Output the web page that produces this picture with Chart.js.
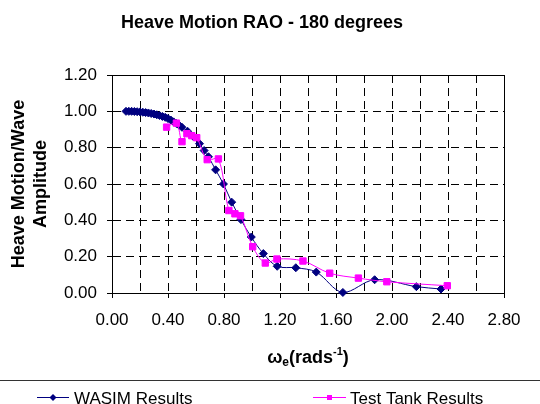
<!DOCTYPE html>
<html lang="en">
<head>
<meta charset="UTF-8">
<title>Heave Motion RAO - 180 degrees</title>
<script src="https://cdn.jsdelivr.net/npm/chart.js"></script>
<style>
  body { margin: 0; background: #fff; }
  canvas { display: block; }
</style>
</head>
<body>
<canvas id="raoChart" width="540" height="404"></canvas>
<script>
// encounter frequency (rad/s) against heave RAO
const wasimFreq = [0.10, 0.12, 0.14, 0.16, 0.18, 0.20, 0.22, 0.24, 0.26, 0.28, 0.30, 0.32, 0.34, 0.36, 0.38, 0.40,
                   0.42, 0.44, 0.46, 0.48, 0.50, 0.54, 0.58, 0.625, 0.658, 0.689, 0.740, 0.796, 0.855, 0.921, 0.995,
                   1.081, 1.180, 1.313, 1.459, 1.649, 1.876, 2.174, 2.350];
const wasimRao = [1.000, 1.000, 1.000, 0.999, 0.998, 0.997, 0.995, 0.993, 0.991, 0.988, 0.985, 0.981, 0.977, 0.972, 0.967, 0.960,
                  0.952, 0.942, 0.933, 0.923, 0.912, 0.890, 0.862, 0.822, 0.784, 0.750, 0.678, 0.600, 0.500, 0.404, 0.308,
                  0.217, 0.147, 0.139, 0.115, 0.003, 0.073, 0.035, 0.022];

const tankFreq = [0.39, 0.46, 0.50, 0.535, 0.57, 0.605, 0.68, 0.76, 0.835, 0.878, 0.918, 1.005, 1.095, 1.178, 1.364,
                  1.555, 1.76, 1.963, 2.395];
const tankRao = [0.913, 0.935, 0.833, 0.877, 0.866, 0.855, 0.734, 0.738, 0.454, 0.436, 0.425, 0.255, 0.165, 0.187, 0.176,
                 0.109, 0.082, 0.062, 0.040];

const seriesNames = ['WASIM Results', 'Test Tank Results'];
const chartTitle = 'Heave Motion RAO - 180 degrees';
const yTitle = ['Heave Motion/Wave', 'Amplitude'];

const xTicks = [0, 0.2, 0.4, 0.6, 0.8, 1.0, 1.2, 1.4, 1.6, 1.8, 2.0, 2.2, 2.4, 2.6, 2.8];
const xTickLabels = ['0.00', '', '0.40', '', '0.80', '', '1.20', '', '1.60', '', '2.00', '', '2.40', '', '2.80'];
const yTicks = [0, 0.2, 0.4, 0.6, 0.8, 1.0, 1.2];
const yTickLabels = ['0.00', '0.20', '0.40', '0.60', '0.80', '1.00', '1.20'];

const FONT = 'Liberation Sans, Arial, sans-serif';
Chart.defaults.font.family = FONT;
Chart.defaults.color = '#000';

function toPoints(xs, ys) {
    return xs.map((x, i) => ({ x: x, y: ys[i] }));
}

// marker used both on the plot and in the legend
function drawMarker(ctx, style, x, y, r) {
    ctx.beginPath();
    if (style === 'rectRot') {
        ctx.moveTo(x - r, y);
        ctx.lineTo(x, y - r);
        ctx.lineTo(x + r, y);
        ctx.lineTo(x, y + r);
        ctx.closePath();
    } else {
        ctx.rect(x - r, y - r, 2 * r, 2 * r);
    }
    ctx.fill();
}

const decorations = {
    id: 'decorations',
    beforeDatasetsDraw(chart) {
        // solid frame round the plot area
        const { ctx, chartArea: a } = chart;
        ctx.save();
        ctx.strokeStyle = '#000';
        ctx.lineWidth = 1;
        ctx.setLineDash([]);
        ctx.strokeRect(Math.round(a.left) + 0.5, Math.round(a.top) + 0.5,
                       Math.round(a.right - a.left), Math.round(a.bottom - a.top));
        ctx.restore();
    },
    afterDraw(chart) {
        const { ctx, chartArea: a } = chart;
        ctx.save();
        ctx.fillStyle = '#000';

        // title
        ctx.font = 'bold 18px ' + FONT;
        ctx.textAlign = 'center';
        ctx.textBaseline = 'alphabetic';
        ctx.fillText(chartTitle, 262, 28);

        // x axis title: omega with subscript e, units with superscript -1
        const parts = [
            { t: 'ω', size: 18, dy: 0 },
            { t: 'e', size: 12, dy: 3 },
            { t: '(rads', size: 18, dy: 0 },
            { t: '-1', size: 11, dy: -8 },
            { t: ')', size: 18, dy: 0 }
        ];
        let total = 0;
        parts.forEach(p => {
            ctx.font = 'bold ' + p.size + 'px ' + FONT;
            p.w = ctx.measureText(p.t).width;
            total += p.w;
        });
        let x = (a.left + a.right) / 2 - total / 2;
        ctx.textAlign = 'left';
        parts.forEach(p => {
            ctx.font = 'bold ' + p.size + 'px ' + FONT;
            ctx.fillText(p.t, x, 363 + p.dy);
            x += p.w;
        });

        // legend strip
        ctx.strokeStyle = '#333';
        ctx.lineWidth = 1;
        ctx.beginPath();
        ctx.moveTo(0, 380.5);
        ctx.lineTo(540, 380.5);
        ctx.stroke();

        const slots = [{ x0: 37, x1: 69, tx: 74 }, { x0: 313, x1: 346, tx: 350 }];
        const ly = 397.5;
        chart.data.datasets.forEach((ds, i) => {
            const s = slots[i];
            ctx.strokeStyle = ds.borderColor;
            ctx.beginPath();
            ctx.moveTo(s.x0, ly);
            ctx.lineTo(s.x1, ly);
            ctx.stroke();
            ctx.fillStyle = ds.pointBackgroundColor;
            drawMarker(ctx, ds.pointStyle, (s.x0 + s.x1) / 2, ly, ds.pointStyle === 'rectRot' ? 3.5 : 2.5);
            ctx.fillStyle = '#000';
            ctx.font = '17px ' + FONT;
            ctx.fillText(ds.label, s.tx, 403.5);
        });
        ctx.restore();
    }
};

new Chart(document.getElementById('raoChart'), {
    type: 'line',
    data: {
        datasets: [
            {
                label: seriesNames[0],
                data: toPoints(wasimFreq, wasimRao),
                borderColor: '#000080',
                borderWidth: 1,
                pointStyle: 'rectRot',
                pointRadius: 4,
                pointBackgroundColor: '#000080',
                pointBorderColor: '#000080',
                pointBorderWidth: 1,
                tension: 0.35,
                clip: false,
                order: 2
            },
            {
                label: seriesNames[1],
                data: toPoints(tankFreq, tankRao),
                borderColor: '#ff00ff',
                borderWidth: 1,
                pointStyle: 'rect',
                pointRadius: 4.5,
                pointBackgroundColor: '#ff00ff',
                pointBorderColor: '#ff00ff',
                pointBorderWidth: 1,
                tension: 0.35,
                clip: false,
                order: 1
            }
        ]
    },
    options: {
        responsive: false,
        animation: false,
        events: [],
        layout: { padding: { top: 75, right: 36, left: 0, bottom: 0 } },
        plugins: {
            legend: { display: false },
            title: { display: false },
            tooltip: { enabled: false }
        },
        scales: {
            x: {
                type: 'linear',
                min: 0,
                max: 2.8,
                afterBuildTicks: scale => { scale.ticks = xTicks.map(v => ({ value: v })); },
                afterFit: scale => { scale.height = 111; },
                ticks: {
                    font: { size: 17 },
                    padding: 12,
                    maxRotation: 0,
                    autoSkip: false,
                    callback: (v, i) => xTickLabels[i]
                },
                grid: {
                    color: '#000',
                    lineWidth: 1,
                    tickLength: 5,
                    tickColor: c => xTickLabels[c.index] ? '#000' : 'rgba(0,0,0,0)'
                },
                border: { color: '#000', width: 1, dash: [8, 5] },
                title: { display: false }
            },
            y: {
                min: 0,
                max: 1.2,
                afterBuildTicks: scale => { scale.ticks = yTicks.map(v => ({ value: v })); },
                afterFit: scale => { scale.width = 112; },
                ticks: {
                    font: { size: 17 },
                    padding: 10,
                    autoSkip: false,
                    callback: (v, i) => yTickLabels[i]
                },
                grid: {
                    color: '#000',
                    lineWidth: 1,
                    tickLength: 5,
                    tickColor: '#000'
                },
                border: { color: '#000', width: 1, dash: [8, 5] },
                title: {
                    display: true,
                    text: yTitle,
                    font: { size: 18, weight: 'bold', lineHeight: 1.22 },
                    padding: { top: 8, bottom: 0 }
                }
            }
        }
    },
    plugins: [decorations]
});
</script>
</body>
</html>
